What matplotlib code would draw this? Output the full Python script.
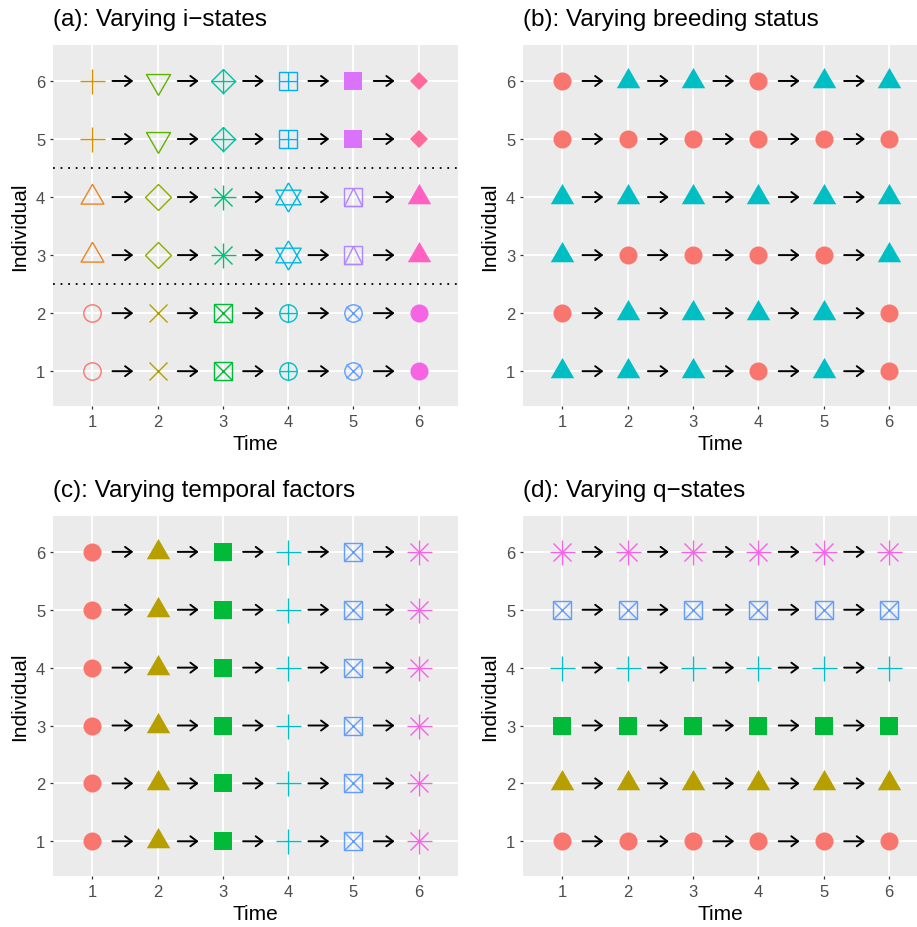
import numpy as np
import matplotlib
matplotlib.use("Agg")
from matplotlib import pyplot as plt

plt.rcParams['font.family'] = ['Liberation Sans', 'DejaVu Sans']

# data
times = [1, 2, 3, 4, 5, 6]
individuals = [1, 2, 3, 4, 5, 6]

# (a) ggplot shape numbers per individual (rows) and time (cols)
shapes_a = [[1, 4, 7, 10, 13, 16],
            [1, 4, 7, 10, 13, 16],
            [2, 5, 8, 11, 14, 17],
            [2, 5, 8, 11, 14, 17],
            [3, 6, 9, 12, 15, 18],
            [3, 6, 9, 12, 15, 18]]
group_breaks_a = [2.5, 4.5]

# (b) breeding status: 0 = circle, 1 = triangle
status_b = [[1, 1, 1, 0, 1, 0],
            [0, 1, 1, 1, 1, 0],
            [1, 0, 0, 0, 0, 1],
            [1, 1, 1, 1, 1, 1],
            [0, 0, 0, 0, 0, 0],
            [0, 1, 1, 0, 1, 1]]
shapes_b = [16, 17]

# (c) temporal factors, (d) q-states
shapes_cd = [16, 17, 15, 3, 7, 8]

titles = ["(a): Varying i\u2212states", "(b): Varying breeding status",
          "(c): Varying temporal factors", "(d): Varying q\u2212states"]


# ggplot2 default hue palette (HCL, l=65, c=100)
def hue_pal(n):
    Xn, Yn, Zn = 95.047, 100.0, 108.883
    un = 4 * Xn / (Xn + 15 * Yn + 3 * Zn)
    vn = 9 * Yn / (Xn + 15 * Yn + 3 * Zn)
    L, C = 65.0, 100.0
    cols = []
    for i in range(n):
        h = np.radians(15 + 360.0 * i / n)
        U, V = C * np.cos(h), C * np.sin(h)
        Y = Yn * ((L + 16) / 116) ** 3
        u = U / (13 * L) + un
        v = V / (13 * L) + vn
        X = 9.0 * Y * u / (4 * v)
        Z = -X / 3 - 5 * Y + 3 * Y / v
        X, Y, Z = X / 100, Y / 100, Z / 100
        r = 3.240479 * X - 1.537150 * Y - 0.498535 * Z
        g = -0.969256 * X + 1.875992 * Y + 0.041556 * Z
        b = 0.055648 * X - 0.204043 * Y + 1.057311 * Z
        rgb = []
        for c in (r, g, b):
            c = 1.055 * c ** (1 / 2.4) - 0.055 if c > 0.00304 else 12.92 * c
            rgb.append(min(max(c, 0), 1))
        cols.append(tuple(rgb))
    return cols


TRI_UP = [(0, 1), (-0.866, -0.5), (0.866, -0.5), (0, 1)]
TRI_DN = [(0, -1), (-0.866, 0.5), (0.866, 0.5), (0, -1)]

# ggplot shape -> list of (marker, size, filled)
SHAPES = {
    1: [('o', 12.5, False)],
    2: [(TRI_UP, 19, False)],
    3: [('+', 18, False)],
    4: [('x', 13, False)],
    5: [('D', 13, False)],
    6: [(TRI_DN, 20, False)],
    7: [('s', 13, False), ('x', 13, False)],
    8: [('+', 18, False), ('x', 13, False)],
    9: [('D', 12.7, False), ('+', 18, False)],
    10: [('o', 12.5, False), ('+', 12.5, False)],
    11: [(TRI_UP, 21, False), (TRI_DN, 21, False)],
    12: [('s', 13, False), ('+', 13, False)],
    13: [('o', 12.5, False), ('x', 9.5, False)],
    14: [('s', 13, False), ('^', 13, False)],
    15: [('s', 13, True)],
    16: [('o', 13, True)],
    17: [(TRI_UP, 19.5, True)],
    18: [('D', 8.7, True)],
}


def draw_shape(ax, x, y, shape, color):
    for m, ms, filled in SHAPES[shape]:
        if filled:
            ax.plot(x, y, marker=m, ms=ms, color=color, mew=0, ls='none', zorder=3)
        else:
            ax.plot(x, y, marker=m, ms=ms, mfc='none', mec=color, mew=1.0,
                    ls='none', zorder=3)


def draw_arrows(ax):
    for ind in individuals:
        for t in times[:-1]:
            ax.annotate('', xy=(t + 0.63, ind), xytext=(t + 0.31, ind),
                        arrowprops=dict(arrowstyle='->,head_length=0.4,head_width=0.3',
                                        lw=1.4, color='black', mutation_scale=12,
                                        shrinkA=0, shrinkB=0), zorder=3)


def style_axes(ax, title, xmax):
    ax.set_facecolor('#EBEBEB')
    for s in ax.spines.values():
        s.set_visible(False)
    ax.set_xlim(0.4, xmax)
    ax.set_ylim(0.4, 6.62)
    ax.set_xticks(times)
    ax.set_yticks(individuals)
    ax.grid(True, color='white', lw=1.3)
    ax.set_axisbelow(True)
    ax.tick_params(length=2.5, width=0.9, color='#333333', labelcolor='#4D4D4D',
                   labelsize=12, pad=3)
    ax.set_xlabel('Time', fontsize=15, labelpad=4)
    ax.set_ylabel('Individual', fontsize=15, labelpad=5)
    ax.set_title(title, loc='left', fontsize=17.5, pad=14.5)


W, H = 917, 928
fig = plt.figure(figsize=(W / 100, H / 100), dpi=100)


def add_panel(x0, y0, x1, y1):
    return fig.add_axes([x0 / W, 1 - y1 / H, (x1 - x0) / W, (y1 - y0) / H])


ax_a = add_panel(53, 46, 458, 407)
ax_b = add_panel(523, 46, 917, 407)
ax_c = add_panel(53, 517, 458, 877)
ax_d = add_panel(523, 517, 917, 877)

xmax_right = 0.4 + 394 / 65.4

# (a)
pal18 = hue_pal(18)
style_axes(ax_a, titles[0], 6.6)
for y in group_breaks_a:
    ax_a.axhline(y, color='black', lw=1.3, ls=(0, (1, 3.2)), zorder=2)
for i, ind in enumerate(individuals):
    for j, t in enumerate(times):
        sh = shapes_a[i][j]
        draw_shape(ax_a, t, ind, sh, pal18[sh - 1])
draw_arrows(ax_a)

# (b)
pal2 = hue_pal(2)
style_axes(ax_b, titles[1], xmax_right)
for i, ind in enumerate(individuals):
    for j, t in enumerate(times):
        k = status_b[i][j]
        draw_shape(ax_b, t, ind, shapes_b[k], pal2[k])
draw_arrows(ax_b)

# (c) shape varies with time
pal6 = hue_pal(6)
style_axes(ax_c, titles[2], 6.6)
for ind in individuals:
    for j, t in enumerate(times):
        draw_shape(ax_c, t, ind, shapes_cd[j], pal6[j])
draw_arrows(ax_c)

# (d) shape varies with individual
style_axes(ax_d, titles[3], xmax_right)
for i, ind in enumerate(individuals):
    for t in times:
        draw_shape(ax_d, t, ind, shapes_cd[i], pal6[i])
draw_arrows(ax_d)

fig.savefig('out.png', dpi=100)
